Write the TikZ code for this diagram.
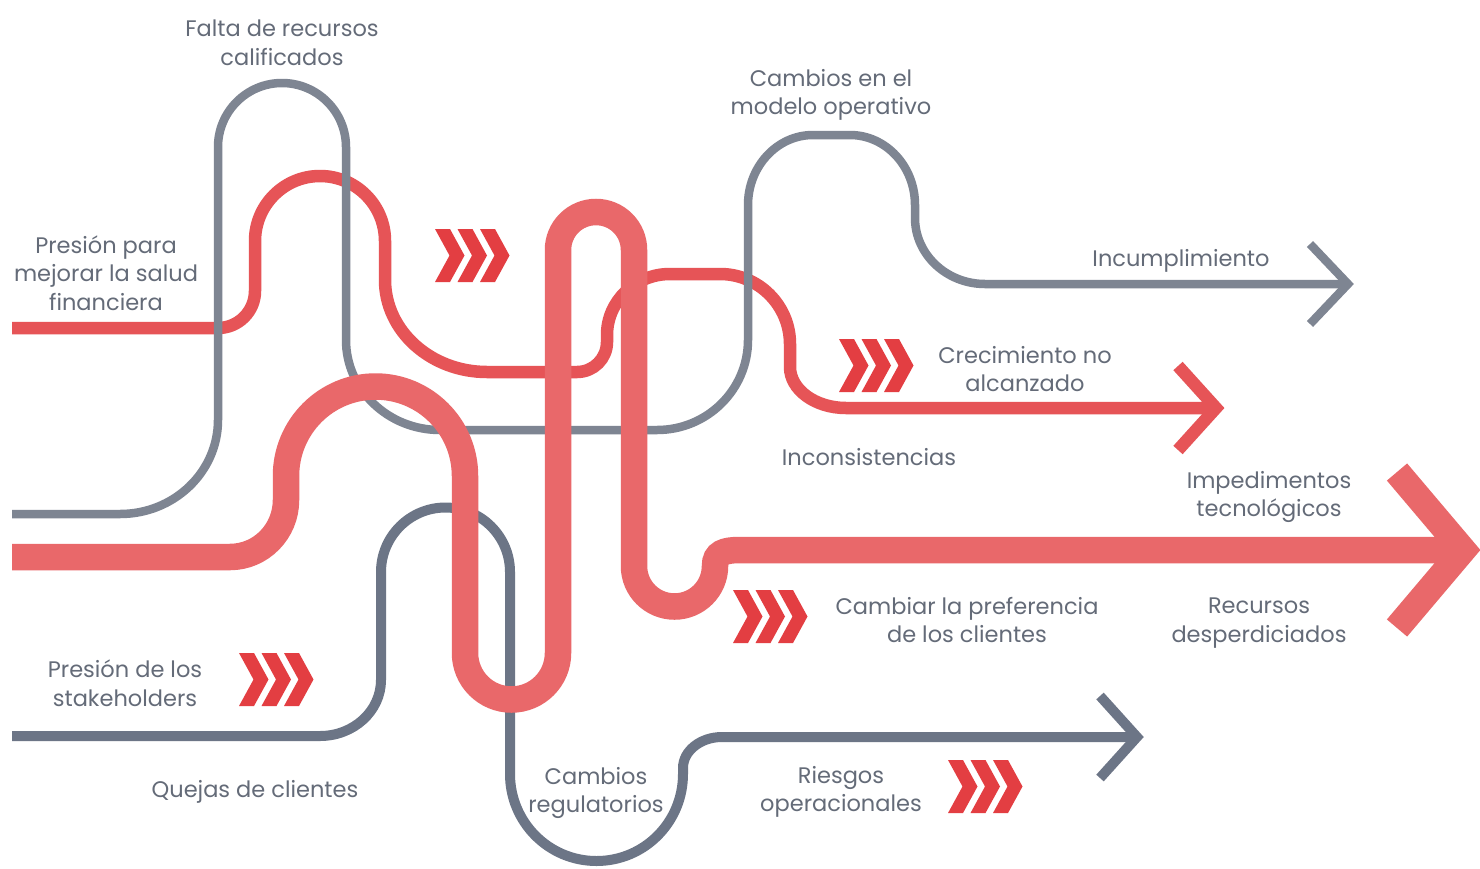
\documentclass[tikz,border=0pt]{standalone}
\usepackage{fontspec}
\setmainfont{Poppins}
\definecolor{redA}{HTML}{E65457}
\definecolor{redB}{HTML}{E9686A}
\definecolor{chevc}{HTML}{E33E42}
\definecolor{grayA}{HTML}{7E8592}
\definecolor{grayB}{HTML}{6C7586}
\definecolor{txt}{HTML}{646B78}
\tikzset{
  rthin/.style={draw=redA,line width=12.5pt},
  rthick/.style={draw=redB,line width=26.5pt},
  gA/.style={draw=grayA,line width=8.5pt},
  gB/.style={draw=grayB,line width=10pt},
  lbl/.style={text=txt,align=center,inner sep=0pt,font=\fontsize{22.5}{28.5}\selectfont},
  chevs/.pic={\foreach \i in {0,1,2}{\fill[chevc,shift={(\i*22.5,0)}] (0,0) -- (15,0) -- (29.5,26.5) -- (15,53) -- (0,53) -- (14.5,26.5) -- cycle;}}
}
\begin{document}
\begin{tikzpicture}[x=1pt,y=-1pt]
\useasboundingbox (0,0) rectangle (1480,868);
\fill[white] (0,0) rectangle (1480,868);
% thin red line
\draw[rthin] (12,328) -- (218,328) .. controls +(20.4,0) and +(0,20.4) .. (255,291) -- (255,241) .. controls +(0,-35.9) and +(-35.9,0) .. (320,176) .. controls +(35.9,0) and +(0,-35.9) .. (385,241) -- (385,280) .. controls +(0,50.8) and +(-56.3,0) .. (487,372) -- (577,372) .. controls +(16.6,0) and +(0,16.6) .. (607,342) -- (607,335) .. controls +(0,-33.7) and +(-34.8,0) .. (670,274) -- (720,274) .. controls +(38.6,0) and +(0,-38.6) .. (790,344) -- (790,367) .. controls +(0,22.6) and +(-30.9,0) .. (846,408) -- (1216,408);
\draw[rthin,line join=miter] (1178,366) -- (1216,408) -- (1178,450);
% upper gray line
\draw[gA] (12,514) -- (120,514) .. controls +(54.1,0) and +(0,51.9) .. (218,420) -- (218,147) .. controls +(0,-35.3) and +(-35.3,0) .. (282,83) .. controls +(35.3,0) and +(0,-35.3) .. (346,147) -- (346,340) .. controls +(0,49.7) and +(-51.9,0) .. (440,430) -- (657,430) .. controls +(50.2,0) and +(0,49.7) .. (748,340) -- (748,205) .. controls +(0,-38.6) and +(-35.9,0) .. (813,135) -- (850,135) .. controls +(35.9,0) and +(0,-38.6) .. (915,205) -- (915,218) .. controls +(0,36.4) and +(-38.6,0) .. (985,284) -- (1348,284);
\draw[gA,line join=miter] (1310,244) -- (1348,284) -- (1310,324);
% lower gray line
\draw[gB] (12,736) -- (320,736) .. controls +(33.7,0) and +(0,30.9) .. (381,680) -- (381,572) .. controls +(0,-35.6) and +(-35.6,0) .. (445.5,507.5) .. controls +(35.6,0) and +(0,-35.6) .. (510,572) -- (510,774) .. controls +(0,48) and +(-48,0) .. (596.5,861) .. controls +(48,0) and +(0,48) .. (683,774) -- (683,768) .. controls +(0,-17.1) and +(-21.5,0) .. (722,737) -- (1137,737);
\draw[gB,line join=miter] (1100,696) -- (1137,737) -- (1100,778);
% thick red line
\draw[rthick] (12,557) -- (230,557) .. controls +(30.9,0) and +(0,31.5) .. (286,500) -- (286,476) .. controls +(0,-49.4) and +(-49.4,0) .. (375.5,386.5) .. controls +(49.4,0) and +(0,-49.4) .. (465,476) -- (465,653) .. controls +(0,25.7) and +(-25.7,0) .. (511.5,699.5) .. controls +(25.7,0) and +(0,25.7) .. (558,653) -- (558,250) .. controls +(0,-21) and +(-21,0) .. (596,212) .. controls +(21,0) and +(0,-21) .. (634,250) -- (634,566) .. controls +(0,22.4) and +(-22.4,0) .. (674.5,606.5) .. controls +(22.4,0) and +(0,22.4) .. (715,566) .. controls (715,553) and (724,550) .. (740,550) -- (1463,550);
\draw[rthick,line join=miter] (1397,472) -- (1463,550) -- (1397,628);
% chevrons
\pic (c1) at (435,229) {chevs};
\pic (c2) at (839,339) {chevs};
\pic (c3) at (239,653) {chevs};
\pic (c4) at (733,590) {chevs};
\pic (c5) at (948,760) {chevs};
% labels
\node[lbl] (falta) at (282,43) {Falta de recursos\\calificados};
\node[lbl] (modelo) at (831,95) {Cambios en el\\modelo operativo};
\node[lbl] (salud) at (106,273) {Presión para\\mejorar la salud\\financiera};
\node[lbl] (incump) at (1181,261) {Incumplimiento};
\node[lbl] (crec) at (1025,369) {Crecimiento no\\alcanzado};
\node[lbl] (incons) at (869,457) {Inconsistencias};
\node[lbl] (imped) at (1269,497) {Impedimentos\\tecnológicos};
\node[lbl] (cambiar) at (967,620) {Cambiar la preferencia\\de los clientes};
\node[lbl] (recursos) at (1259,623) {Recursos\\desperdiciados};
\node[lbl] (stake) at (125,683) {Presión de los\\stakeholders};
\node[lbl] (quejas) at (255,792) {Quejas de clientes};
\node[lbl] (regul) at (596,793) {Cambios\\regulatorios};
\node[lbl] (riesgos) at (841,792) {Riesgos\\operacionales};
\end{tikzpicture}
\end{document}
